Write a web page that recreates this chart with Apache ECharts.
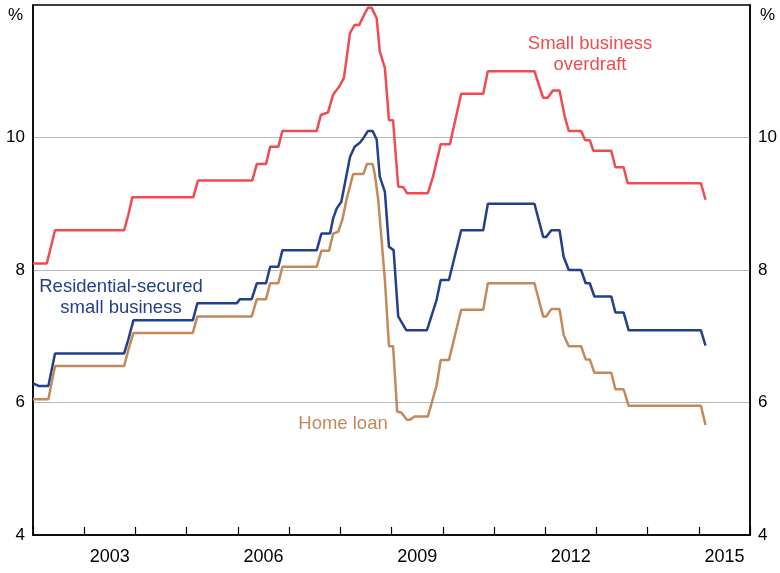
<!DOCTYPE html>
<html>
<head>
<meta charset="utf-8">
<script src="https://cdn.jsdelivr.net/npm/echarts@6/dist/echarts.min.js"></script>
<style>
html,body{margin:0;padding:0;background:#fff;}
#chart{width:780px;height:573px;}
</style>
</head>
<body>
<div id="chart"></div>
<script>
// Small business overdraft (%), [decimal year, rate]
const overdraft = [
  [2002.00, 8.10], [2002.27, 8.10], [2002.43, 8.60], [2003.78, 8.60], [2003.86, 8.83], [2003.94, 9.10],
  [2005.13, 9.10], [2005.22, 9.35], [2006.28, 9.35], [2006.37, 9.60], [2006.55, 9.60], [2006.63, 9.86],
  [2006.79, 9.86], [2006.87, 10.10], [2007.54, 10.10], [2007.62, 10.34], [2007.76, 10.38], [2007.86, 10.65],
  [2007.98, 10.77], [2008.07, 10.90], [2008.19, 11.58], [2008.28, 11.70], [2008.37, 11.70], [2008.47, 11.86],
  [2008.54, 11.96], [2008.61, 11.96], [2008.71, 11.80], [2008.77, 11.30], [2008.87, 11.05], [2008.95, 10.26],
  [2009.03, 10.26], [2009.13, 9.26], [2009.23, 9.25], [2009.30, 9.16], [2009.71, 9.16], [2009.81, 9.41],
  [2009.96, 9.90], [2010.14, 9.90], [2010.36, 10.66], [2010.79, 10.66], [2010.88, 11.00], [2011.79, 11.00],
  [2011.96, 10.60], [2012.05, 10.60], [2012.15, 10.71], [2012.28, 10.71], [2012.38, 10.32], [2012.46, 10.10],
  [2012.70, 10.10], [2012.78, 9.96], [2012.87, 9.96], [2012.94, 9.80], [2013.29, 9.80], [2013.37, 9.55],
  [2013.53, 9.55], [2013.61, 9.31], [2015.04, 9.31], [2015.13, 9.06]
];
// Residential-secured small business (%)
const residential = [
  [2002.00, 6.29], [2002.11, 6.25], [2002.30, 6.25], [2002.43, 6.74], [2003.78, 6.74], [2003.86, 6.95],
  [2003.96, 7.24], [2005.12, 7.24], [2005.21, 7.50], [2005.98, 7.50], [2006.04, 7.56], [2006.27, 7.56],
  [2006.37, 7.80], [2006.55, 7.80], [2006.63, 8.05], [2006.79, 8.05], [2006.87, 8.30], [2007.54, 8.30],
  [2007.63, 8.55], [2007.80, 8.55], [2007.86, 8.78], [2007.93, 8.93], [2008.02, 9.03], [2008.19, 9.71],
  [2008.28, 9.86], [2008.38, 9.92], [2008.45, 9.99], [2008.54, 10.10], [2008.63, 10.10], [2008.71, 9.97],
  [2008.77, 9.41], [2008.87, 9.18], [2008.95, 8.35], [2009.04, 8.30], [2009.13, 7.30], [2009.29, 7.09],
  [2009.69, 7.09], [2009.88, 7.55], [2009.96, 7.85], [2010.12, 7.85], [2010.36, 8.60], [2010.79, 8.60],
  [2010.88, 9.00], [2011.79, 9.00], [2011.96, 8.50], [2012.02, 8.50], [2012.12, 8.60], [2012.28, 8.60],
  [2012.36, 8.20], [2012.46, 8.00], [2012.70, 8.00], [2012.79, 7.80], [2012.87, 7.80], [2012.96, 7.60],
  [2013.29, 7.60], [2013.37, 7.36], [2013.53, 7.36], [2013.63, 7.09], [2015.04, 7.09], [2015.13, 6.86]
];
// Home loan (%)
const homeLoan = [
  [2002.00, 6.05], [2002.30, 6.05], [2002.43, 6.55], [2003.78, 6.55], [2003.86, 6.79], [2003.96, 7.05],
  [2005.12, 7.05], [2005.21, 7.30], [2006.27, 7.30], [2006.37, 7.56], [2006.55, 7.56], [2006.63, 7.80],
  [2006.79, 7.80], [2006.87, 8.05], [2007.54, 8.05], [2007.63, 8.29], [2007.78, 8.29], [2007.86, 8.55],
  [2007.96, 8.58], [2008.04, 8.76], [2008.12, 9.06], [2008.25, 9.45], [2008.45, 9.45], [2008.52, 9.60],
  [2008.63, 9.60], [2008.67, 9.46], [2008.74, 9.06], [2008.87, 7.85], [2008.95, 6.85], [2009.03, 6.85],
  [2009.11, 5.86], [2009.19, 5.85], [2009.30, 5.74], [2009.36, 5.74], [2009.45, 5.79], [2009.71, 5.79],
  [2009.88, 6.26], [2009.96, 6.64], [2010.12, 6.64], [2010.36, 7.40], [2010.79, 7.40], [2010.88, 7.80],
  [2011.79, 7.80], [2011.96, 7.30], [2012.02, 7.30], [2012.12, 7.41], [2012.28, 7.41], [2012.36, 7.02],
  [2012.46, 6.85], [2012.70, 6.85], [2012.79, 6.65], [2012.87, 6.65], [2012.96, 6.45], [2013.29, 6.45],
  [2013.37, 6.20], [2013.53, 6.20], [2013.63, 5.95], [2015.04, 5.95], [2015.13, 5.66]
];
const yearLabels = [2003, 2006, 2009, 2012, 2015];
const seriesNames = ['Small business overdraft', 'Residential-secured small business', 'Home loan'];

const RED = '#ef4b50', BLUE = '#243f8c', BROWN = '#c4895a';
const FONT = 'Liberation Sans, Arial, sans-serif';

const chart = echarts.init(document.getElementById('chart'), null, {renderer: 'canvas'});

const yAxisBase = {
  type: 'value', min: 4, max: 12, interval: 2,
  name: '%', nameLocation: 'end', nameGap: -10,
  axisLine: {show: true, lineStyle: {color: '#000', width: 1.5}},
  axisTick: {show: false},
  splitLine: {show: true, showMinLine: false, showMaxLine: false, lineStyle: {color: '#b8b8b8', width: 1}},
  axisLabel: {
    color: '#000', fontSize: 17, fontFamily: FONT, margin: 8,
    formatter: v => (v === 12 ? '' : String(v))
  }
};

chart.setOption({
  animation: false,
  backgroundColor: '#fff',
  grid: {left: 33, right: 29, top: 5, bottom: 38, show: true, borderColor: '#000', borderWidth: 1.5, backgroundColor: 'transparent'},
  xAxis: [
    {
      type: 'value', min: 2002, max: 2016, interval: 1,
      axisLine: {show: true, onZero: false, lineStyle: {color: '#000', width: 1.5}},
      axisTick: {show: true, inside: true, length: 8, lineStyle: {color: '#000', width: 1.2}},
      axisLabel: {show: false},
      splitLine: {show: false}
    },
    {
      type: 'value', min: 2001.5, max: 2015.5, interval: 0.5, position: 'bottom',
      axisLine: {show: false}, axisTick: {show: false}, splitLine: {show: false},
      axisLabel: {
        show: true, color: '#000', fontSize: 18, fontFamily: FONT, margin: 13,
        showMinLabel: true, showMaxLabel: true,
        formatter: v => (yearLabels.indexOf(v) >= 0 ? String(v) : '')
      }
    }
  ],
  yAxis: [
    Object.assign({}, yAxisBase, {
      position: 'left',
      nameTextStyle: {color: '#000', fontSize: 17, fontFamily: FONT, align: 'right', verticalAlign: 'middle', padding: [0, 10, 0, 0]}
    }),
    Object.assign({}, yAxisBase, {
      position: 'right',
      splitLine: {show: false},
      nameTextStyle: {color: '#000', fontSize: 17, fontFamily: FONT, align: 'left', verticalAlign: 'middle', padding: [0, 0, 0, 10]}
    })
  ],
  series: [
    {name: seriesNames[0], type: 'line', data: overdraft, xAxisIndex: 0, yAxisIndex: 0, showSymbol: false, symbol: 'none',
     lineStyle: {color: RED, width: 2.5}, itemStyle: {color: RED}},
    {name: seriesNames[1], type: 'line', data: residential, xAxisIndex: 0, yAxisIndex: 0, showSymbol: false, symbol: 'none',
     lineStyle: {color: BLUE, width: 2.5}, itemStyle: {color: BLUE}},
    {name: seriesNames[2], type: 'line', data: homeLoan, xAxisIndex: 0, yAxisIndex: 0, showSymbol: false, symbol: 'none',
     lineStyle: {color: BROWN, width: 2.5}, itemStyle: {color: BROWN}}
  ],
  graphic: [
    {type: 'text', x: 590, y: 54, style: {text: 'Small business\noverdraft', fill: RED, font: '18.5px ' + FONT, textAlign: 'center', textVerticalAlign: 'middle', lineHeight: 21}},
    {type: 'text', x: 121, y: 297, style: {text: 'Residential-secured\nsmall business', fill: BLUE, font: '18.5px ' + FONT, textAlign: 'center', textVerticalAlign: 'middle', lineHeight: 21}},
    {type: 'text', x: 343, y: 424, style: {text: 'Home loan', fill: BROWN, font: '18.5px ' + FONT, textAlign: 'center', textVerticalAlign: 'middle'}}
  ]
});
</script>
</body>
</html>
